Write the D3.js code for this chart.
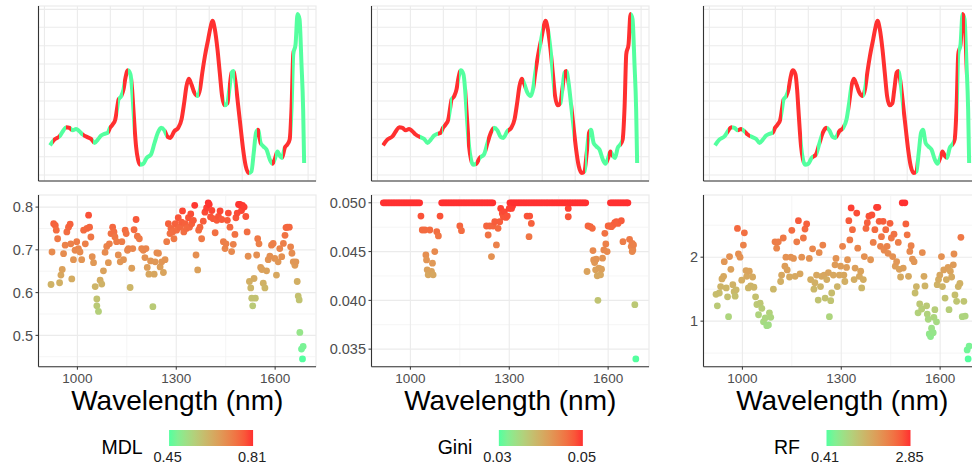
<!DOCTYPE html>
<html>
<head>
<meta charset="utf-8">
<script src="https://cdn.jsdelivr.net/npm/d3@7"></script>
<style>
  body { margin: 0; background: #fff; }
  svg { display: block; font-family: "Liberation Sans", Arial, sans-serif; }
</style>
</head>
<body>
<svg id="chart" width="972" height="468"></svg>
<script>
//***************** data *******************/
// mean spectrum (same curve in every panel)
var specWl  = [917,930,946,956,966,976,986,996,1006,1016,1032,1042,1052,1062,1072,1082,1092,1099,1107,1115,
               1120,1125,1133,1140,1146,1153,1161,1166,1170,1174,1178,1184,1190,1200,1210,1223,1234,1244,1254,1264,
               1274,1282,1294,1306,1316,1324,1331,1338,1346,1355,1365,1372,1379,1387,1397,1405,1410,1417,1425,1432,
               1439,1447,1455,1461,1468,1473,1480,1488,1496,1503,1511,1520,1528,1535,1542,1548,1556,1564,1574,1584,
               1592,1599,1607,1615,1621,1629,1637,1644,1650,1655,1662,1668,1674,1680,1685,1688];
var specVal = [0.202,0.234,0.253,0.282,0.305,0.301,0.287,0.295,0.282,0.263,0.247,0.238,0.215,0.234,0.257,0.267,0.273,0.301,0.320,0.349,
               0.406,0.463,0.482,0.520,0.587,0.629,0.606,0.520,0.406,0.291,0.196,0.120,0.091,0.097,0.130,0.149,0.215,0.273,0.301,0.287,
               0.250,0.244,0.282,0.301,0.349,0.444,0.539,0.581,0.549,0.501,0.482,0.520,0.615,0.710,0.806,0.882,0.910,0.863,0.749,0.615,
               0.482,0.429,0.440,0.520,0.615,0.625,0.558,0.425,0.291,0.177,0.082,0.044,0.053,0.158,0.273,0.291,0.215,0.196,0.177,0.120,
               0.097,0.124,0.167,0.139,0.130,0.187,0.206,0.234,0.425,0.720,0.777,0.949,0.920,0.663,0.406,0.101];

// wavelength ranges drawn in red on the spectrum
var mdlRed  = [[926,945],[965,980],[1017,1046],[1097,1122],[1137,1153],[1168,1190],[1270,1361],[1369,1444],
               [1456,1462],[1478,1520],[1544,1554],[1589,1599],[1624,1652]];
var giniRed = [[913,1030],[1085,1095],[1100,1120],[1125,1148],[1172,1182],[1200,1210],[1231,1251],[1297,1345],
               [1378,1390],[1398,1423],[1433,1456],[1466,1474],[1494,1530],[1535,1542],[1600,1612],[1640,1670]];
var rfRed   = [[956,968],[986,1000],[1008,1022],[1094,1119],[1134,1180],[1214,1225],[1240,1256],[1286,1306],
               [1326,1367],[1372,1476],[1483,1528],[1599,1619],[1640,1655],[1665,1675]];

// importance per wavelength: [wavelength, value]
var mdlPoints = [[920,0.619],[923,0.695],[928,0.761],[933,0.757],[936,0.746],[940,0.726],[946,0.623],[950,0.641],[954,0.654],[958,0.691],
  [963,0.711],[968,0.742],[973,0.753],[978,0.760],[980,0.714],[983,0.632],[988,0.677],[993,0.699],[998,0.719],[1003,0.703],
  [1008,0.695],[1013,0.677],[1019,0.746],[1024,0.714],[1029,0.750],[1034,0.781],[1037,0.753],[1041,0.730],[1045,0.684],[1049,0.670],
  [1054,0.614],[1059,0.585],[1059,0.569],[1064,0.556],[1069,0.629],[1074,0.620],[1079,0.651],[1084,0.694],[1089,0.708],[1094,0.670],
  [1097,0.714],[1102,0.738],[1107,0.753],[1111,0.742],[1114,0.730],[1119,0.719],[1124,0.688],[1130,0.672],[1135,0.719],[1140,0.677],
  [1145,0.746],[1148,0.738],[1152,0.699],[1155,0.703],[1160,0.612],[1165,0.657],[1168,0.703],[1172,0.747],[1178,0.771],[1182,0.732],
  [1188,0.726],[1195,0.703],[1200,0.699],[1205,0.682],[1208,0.703],[1212,0.659],[1217,0.643],[1222,0.674],[1229,0.567],[1233,0.643],
  [1236,0.672],[1241,0.693],[1246,0.692],[1251,0.660],[1256,0.672],[1261,0.647],[1266,0.677],[1271,0.719],[1276,0.761],[1281,0.738],
  [1284,0.750],[1289,0.742],[1293,0.726],[1297,0.761],[1301,0.746],[1306,0.775],[1311,0.753],[1316,0.765],[1319,0.791],[1323,0.742],
  [1327,0.761],[1331,0.750],[1337,0.775],[1340,0.753],[1344,0.784],[1347,0.761],[1352,0.769],[1356,0.804],[1360,0.688],[1365,0.653],
  [1368,0.746],[1372,0.753],[1377,0.726],[1382,0.767],[1387,0.788],[1392,0.798],[1397,0.810],[1400,0.806],[1404,0.777],[1408,0.792],
  [1412,0.773],[1418,0.740],[1423,0.769],[1428,0.778],[1433,0.791],[1438,0.771],[1443,0.719],[1448,0.703],[1451,0.714],[1455,0.769],
  [1458,0.786],[1463,0.753],[1468,0.696],[1473,0.713],[1478,0.736],[1481,0.775],[1485,0.786],[1489,0.806],[1493,0.806],[1498,0.792],
  [1501,0.804],[1506,0.800],[1511,0.778],[1515,0.742],[1518,0.685],[1522,0.626],[1526,0.611],[1529,0.587],[1532,0.569],[1536,0.633],
  [1540,0.587],[1544,0.688],[1547,0.726],[1551,0.714],[1556,0.659],[1560,0.654],[1564,0.622],[1569,0.611],[1574,0.651],[1579,0.677],
  [1584,0.685],[1589,0.711],[1594,0.715],[1599,0.680],[1604,0.641],[1609,0.672],[1614,0.703],[1620,0.684],[1625,0.715],[1630,0.734],
  [1633,0.752],[1637,0.753],[1643,0.753],[1647,0.707],[1651,0.692],[1655,0.672],[1660,0.664],[1663,0.672],[1667,0.626],[1670,0.592],
  [1673,0.583],[1675,0.507],[1680,0.468],[1685,0.474],[1683,0.445]];

// Gini: wavelengths sitting on the 0.050 ceiling, then the others
var giniCap = 0.050;
var giniCapWl = [918,923,928,933,938,943,948,953,958,963,968,973,978,983,988,993,998,1003,1008,1013,1018,1023,1028,
  1095,1100,1105,1110,1115,1120,1125,1130,1135,1140,1145,1150,1155,1160,1165,1170,1175,1180,1185,1190,1195,1200,1205,
  1210,1215,1220,1225,1230,1235,1240,1245,1250,
  1302,1307,1312,1317,1322,1327,1332,1337,1342,1347,1352,1357,1362,1367,1372,1377,1382,1387,1392,1397,1402,1407,1412,
  1417,1422,1427,1432,1437,1442,1447,1452,1457,1462,1467,1472,1477,1482,1487,1492,1497,1502,1507,1512,1517,1522,1527,1532,
  1607,1612,1617,1622,1627,1632,1637,1642,1647,1652,1657,1660];
var giniPoints = [[1032,0.04864],[1036,0.04721],[1044,0.04721],[1047,0.04466],[1049,0.04415],[1051,0.04313],[1054,0.04262],
  [1059,0.04721],[1064,0.04296],[1067,0.04381],[1069,0.04262],[1074,0.04500],[1080,0.04704],[1085,0.04660],[1090,0.04864],
  [1150,0.04762],[1155,0.04714],[1231,0.04762],[1236,0.04670],[1241,0.04762],[1246,0.04449],[1251,0.04762],[1256,0.04806],
  [1261,0.04568],[1266,0.04738],[1271,0.04806],[1274,0.04942],[1279,0.04891],[1282,0.04857],[1285,0.04908],[1290,0.04850],
  [1294,0.04864],[1300,0.04942],[1307,0.04942],[1310,0.04966],[1354,0.04864],[1362,0.04864],[1360,0.04653],[1367,0.04789],
  [1479,0.04942],[1479,0.04857],[1536,0.04296],[1539,0.04762],[1546,0.04755],[1552,0.04738],[1554,0.04510],[1556,0.04415],
  [1559,0.04388],[1562,0.04313],[1564,0.04422],[1567,0.04252],[1569,0.04000],[1572,0.04330],[1577,0.04262],[1580,0.04320],
  [1583,0.04432],[1587,0.04517],[1590,0.04687],[1593,0.04578],[1597,0.04500],[1600,0.04762],[1605,0.04762],[1610,0.04755],
  [1615,0.04772],[1620,0.04796],[1625,0.04806],[1630,0.04789],[1640,0.04816],[1645,0.04602],[1665,0.04626],[1670,0.04551],
  [1673,0.04585],[1675,0.04517],[1677,0.04568],[1673,0.04500],[1681,0.03956],[1684,0.03400]];

var rfPoints = [[920,1.42],[924,1.24],[930,1.44],[934,1.54],[938,1.66],[943,1.70],[945,1.93],[951,1.52],[955,1.38],[958,1.07],
  [961,2.01],[965,1.81],[971,1.57],[975,1.46],[978,1.39],[981,1.49],[985,2.45],[988,2.05],[993,2.00],[998,1.64],
  [1003,2.19],[1006,2.38],[1011,1.79],[1013,1.70],[1018,1.52],[1021,1.78],[1025,1.55],[1031,1.69],[1035,1.53],[1040,1.38],
  [1044,1.26],[1049,1.10],[1054,1.28],[1059,1.20],[1064,0.99],[1069,1.05],[1074,0.93],[1079,0.94],[1082,1.13],[1086,1.06],
  [1094,1.50],[1099,2.24],[1104,2.14],[1109,2.24],[1116,1.62],[1119,1.72],[1124,2.30],[1129,1.86],[1132,2.00],[1136,1.80],
  [1143,1.69],[1147,2.00],[1150,2.42],[1155,1.98],[1160,1.70],[1165,2.24],[1170,2.57],[1175,1.74],[1180,2.00],[1185,2.30],
  [1190,2.44],[1195,2.52],[1203,1.98],[1207,1.65],[1213,2.13],[1217,1.50],[1220,1.60],[1225,1.72],[1230,1.33],[1233,2.07],
  [1237,1.54],[1240,1.70],[1244,2.19],[1248,1.72],[1251,1.36],[1256,1.65],[1261,1.76],[1264,1.07],[1268,1.32],[1271,1.44],
  [1276,1.72],[1281,1.88],[1284,1.98],[1288,1.54],[1294,1.72],[1298,1.86],[1304,2.17],[1308,1.72],[1311,1.62],[1316,1.84],
  [1319,1.96],[1323,2.57],[1326,2.27],[1330,2.77],[1334,2.43],[1339,1.65],[1342,1.83],[1347,2.69],[1350,2.14],[1355,1.70],
  [1359,1.78],[1362,1.52],[1367,1.65],[1370,2.01],[1375,2.45],[1379,2.54],[1384,2.64],[1389,1.96],[1393,2.66],[1397,2.23],
  [1402,2.43],[1407,2.78],[1411,2.78],[1415,2.56],[1419,2.17],[1422,2.32],[1427,2.56],[1430,2.11],[1435,2.43],[1439,2.17],
  [1442,2.06],[1448,2.53],[1452,2.30],[1456,2.01],[1460,2.36],[1464,1.86],[1468,1.93],[1473,2.23],[1476,1.81],[1480,1.69],
  [1485,2.85],[1488,1.83],[1493,2.85],[1496,2.52],[1500,2.35],[1504,1.70],[1508,2.09],[1512,2.18],[1516,1.97],[1521,1.93],
  [1524,1.44],[1528,1.54],[1533,1.13],[1538,1.27],[1544,1.19],[1546,2.07],[1551,1.70],[1554,1.55],[1559,1.24],[1561,1.11],
  [1564,1.03],[1567,0.80],[1571,0.76],[1574,0.89],[1579,0.82],[1581,1.06],[1584,1.18],[1589,0.99],[1591,1.57],[1595,1.65],
  [1599,1.72],[1604,2.01],[1607,1.54],[1611,1.80],[1615,1.36],[1619,1.65],[1624,1.84],[1627,1.18],[1631,1.78],[1635,1.69],
  [1640,1.88],[1642,2.05],[1645,1.41],[1650,1.31],[1655,1.54],[1660,1.59],[1663,2.31],[1667,1.07],[1672,1.31],[1676,1.08],
  [1682,0.55],[1685,0.41],[1688,0.61]];

// tick labels
var xTicks    = [1000, 1300, 1600];
var xGridTop  = [900, 1000, 1100, 1200, 1300, 1400, 1500, 1600, 1700];
var topYGrid  = [0.033, 0.137, 0.245, 0.350, 0.454, 0.560, 0.664, 0.768, 0.873, 0.975];
var mdlTicks  = [0.5, 0.6, 0.7, 0.8];
var giniTicks = [0.035, 0.040, 0.045, 0.050];
var rfTicks   = [1, 2];

//************* set dimensions ***************/
var W = 277.5;
var lefts = [38.5, 371.5, 703.5];
var top1 = 6, bot1 = 181, top2 = 195, bot2 = 366.7;
var xDom = [882, 1724];
var lowCol = "#54FF9F", highCol = "#FF3030";
var gridCol = "#ebebeb", axisCol = "#333333";

var svg = d3.select("#chart");
var defs = svg.append("defs");

function pad(ext) {
  var d = (ext[1] - ext[0]) * 0.05;
  return [ext[0] - d, ext[1] + d];
}

var spec = specWl.map(function(w, i) { return [w, specVal[i]]; });

var giniAll = giniCapWl.map(function(w) { return [w, giniCap]; })
  .concat(giniPoints)
  .sort(function(a, b) { return a[0] - b[0]; });

var panels = [
  {title: "MDL",  pts: mdlPoints, red: mdlRed,  ticks: mdlTicks,  fmt: d3.format(".1f")},
  {title: "Gini", pts: giniAll,   red: giniRed, ticks: giniTicks, fmt: d3.format(".3f")},
  {title: "RF",   pts: rfPoints,  red: rfRed,   ticks: rfTicks,   fmt: d3.format("d")}
];

panels.forEach(function(p, i) {
  var left = lefts[i], right = left + W, cx = left + W / 2;
  var g = svg.append("g");

  var x = d3.scaleLinear().domain(xDom).range([left, right]);

  //***************** top: spectrum *******************/
  var ys = d3.scaleLinear().domain(pad(d3.extent(specVal))).range([bot1, top1]);

  g.append("rect").attr("x", left).attr("y", top1).attr("width", W).attr("height", bot1 - top1)
    .attr("fill", "#fff").attr("stroke", gridCol).attr("stroke-width", 1.2);

  g.selectAll(".tgx").data(xGridTop).enter().append("line")
    .attr("x1", function(d) { return x(d); }).attr("x2", function(d) { return x(d); })
    .attr("y1", top1).attr("y2", bot1)
    .attr("stroke", gridCol).attr("stroke-width", 1.1);
  g.selectAll(".tgy").data(topYGrid).enter().append("line")
    .attr("x1", left).attr("x2", right)
    .attr("y1", function(d) { return ys(d); }).attr("y2", function(d) { return ys(d); })
    .attr("stroke", gridCol).attr("stroke-width", 1.1);

  // hard-stop gradient along wavelength gives the red / green segments
  var x0 = x(xDom[0]), x1 = x(xDom[1]);
  var lg = defs.append("linearGradient").attr("id", "lg" + i)
    .attr("gradientUnits", "userSpaceOnUse")
    .attr("x1", x0).attr("x2", x1).attr("y1", 0).attr("y2", 0);
  var off = function(w) { return (x(w) - x0) / (x1 - x0); };
  lg.append("stop").attr("offset", 0).attr("stop-color", lowCol);
  p.red.forEach(function(r) {
    lg.append("stop").attr("offset", off(r[0])).attr("stop-color", lowCol);
    lg.append("stop").attr("offset", off(r[0])).attr("stop-color", highCol);
    lg.append("stop").attr("offset", off(r[1])).attr("stop-color", highCol);
    lg.append("stop").attr("offset", off(r[1])).attr("stop-color", lowCol);
  });
  lg.append("stop").attr("offset", 1).attr("stop-color", lowCol);

  var line = d3.line()
    .x(function(d) { return x(d[0]); })
    .y(function(d) { return ys(d[1]); })
    .curve(d3.curveMonotoneX);
  g.append("path").datum(spec)
    .attr("d", line)
    .attr("fill", "none")
    .attr("stroke", "url(#lg" + i + ")")
    .attr("stroke-width", 4)
    .attr("stroke-linejoin", "round");

  g.append("line").attr("x1", left).attr("x2", left).attr("y1", top1).attr("y2", bot1)
    .attr("stroke", axisCol).attr("stroke-width", 1.1);
  g.append("line").attr("x1", left).attr("x2", right).attr("y1", bot1).attr("y2", bot1)
    .attr("stroke", axisCol).attr("stroke-width", 1.1);

  //***************** bottom: importance scatter *******************/
  var vals = p.pts.map(function(d) { return d[1]; });
  var ext = d3.extent(vals);
  var y = d3.scaleLinear().domain(pad(ext)).range([bot2, top2]);
  var color = d3.scaleLinear().domain(ext).range([lowCol, highCol]).interpolate(d3.interpolateLab);

  g.append("rect").attr("x", left).attr("y", top2).attr("width", W).attr("height", bot2 - top2)
    .attr("fill", "#fff").attr("stroke", gridCol).attr("stroke-width", 1.2);

  var step = p.ticks[1] - p.ticks[0];
  var yDom = y.domain();
  var yMinor = p.ticks.map(function(t) { return t - step / 2; })
    .concat([p.ticks[p.ticks.length - 1] + step / 2])
    .filter(function(t) { return t > yDom[0] && t < yDom[1]; });
  var xMinor = [xTicks[0] - 150].concat(xTicks.map(function(t) { return t + 150; }))
    .filter(function(t) { return t > xDom[0] && t < xDom[1]; });

  g.selectAll(".mx").data(xMinor).enter().append("line")
    .attr("x1", function(d) { return x(d); }).attr("x2", function(d) { return x(d); })
    .attr("y1", top2).attr("y2", bot2).attr("stroke", "#f2f2f2").attr("stroke-width", 0.8);
  g.selectAll(".my").data(yMinor).enter().append("line")
    .attr("x1", left).attr("x2", right)
    .attr("y1", function(d) { return y(d); }).attr("y2", function(d) { return y(d); })
    .attr("stroke", "#f2f2f2").attr("stroke-width", 0.8);
  g.selectAll(".gx").data(xTicks).enter().append("line")
    .attr("x1", function(d) { return x(d); }).attr("x2", function(d) { return x(d); })
    .attr("y1", top2).attr("y2", bot2).attr("stroke", gridCol).attr("stroke-width", 1.1);
  g.selectAll(".gy").data(p.ticks).enter().append("line")
    .attr("x1", left).attr("x2", right)
    .attr("y1", function(d) { return y(d); }).attr("y2", function(d) { return y(d); })
    .attr("stroke", gridCol).attr("stroke-width", 1.1);

  g.selectAll(".pt").data(p.pts).enter().append("circle")
    .attr("cx", function(d) { return x(d[0]); })
    .attr("cy", function(d) { return y(d[1]); })
    .attr("r", 3.4)
    .attr("fill", function(d) { return color(d[1]); });

  // axes
  g.append("line").attr("x1", left).attr("x2", left).attr("y1", top2).attr("y2", bot2)
    .attr("stroke", axisCol).attr("stroke-width", 1.1);
  g.append("line").attr("x1", left).attr("x2", right).attr("y1", bot2).attr("y2", bot2)
    .attr("stroke", axisCol).attr("stroke-width", 1.1);

  g.selectAll(".yt").data(p.ticks).enter().append("line")
    .attr("x1", left - 3).attr("x2", left)
    .attr("y1", function(d) { return y(d); }).attr("y2", function(d) { return y(d); })
    .attr("stroke", axisCol).attr("stroke-width", 1);
  g.selectAll(".yl").data(p.ticks).enter().append("text")
    .attr("x", left - 5.5)
    .attr("y", function(d) { return y(d); })
    .attr("dy", "0.36em")
    .attr("text-anchor", "end")
    .attr("font-size", "14.5px")
    .attr("fill", "#4d4d4d")
    .text(function(d) { return p.fmt(d); });

  g.selectAll(".xt").data(xTicks).enter().append("line")
    .attr("x1", function(d) { return x(d); }).attr("x2", function(d) { return x(d); })
    .attr("y1", bot2).attr("y2", bot2 + 3)
    .attr("stroke", axisCol).attr("stroke-width", 1);
  g.selectAll(".xl").data(xTicks).enter().append("text")
    .attr("x", function(d) { return x(d); })
    .attr("y", 382.7)
    .attr("text-anchor", "middle")
    .attr("font-size", "13.5px")
    .attr("fill", "#4d4d4d")
    .text(function(d) { return d; });

  g.append("text")
    .attr("x", cx).attr("y", 410)
    .attr("text-anchor", "middle")
    .attr("font-size", "28px")
    .attr("fill", "#000")
    .text("Wavelength (nm)");

  //***************** legend *******************/
  var barW = 84, barH = 16, gap = 26.5;
  var title = g.append("text")
    .attr("y", 454)
    .attr("font-size", "19.5px")
    .attr("fill", "#000")
    .text(p.title);
  var tw = title.node().getComputedTextLength();
  var start = cx - (tw + gap + barW) / 2;
  title.attr("x", start);
  var bx = start + tw + gap;

  var cg = defs.append("linearGradient").attr("id", "cb" + i)
    .attr("x1", 0).attr("x2", 1).attr("y1", 0).attr("y2", 0);
  d3.range(0, 1.0001, 0.1).forEach(function(t) {
    cg.append("stop").attr("offset", t)
      .attr("stop-color", color(ext[0] + t * (ext[1] - ext[0])));
  });
  g.append("rect").attr("x", bx).attr("y", 430).attr("width", barW).attr("height", barH)
    .attr("fill", "url(#cb" + i + ")");

  var f2 = d3.format(".2f");
  g.selectAll(".ll").data(ext).enter().append("text")
    .attr("x", function(d, k) { return k === 0 ? bx - 1.5 : bx + barW - 1; })
    .attr("y", 462)
    .attr("text-anchor", "middle")
    .attr("font-size", "14.5px")
    .attr("fill", "#222")
    .text(function(d) { return f2(d); });
});
</script>
</body>
</html>
